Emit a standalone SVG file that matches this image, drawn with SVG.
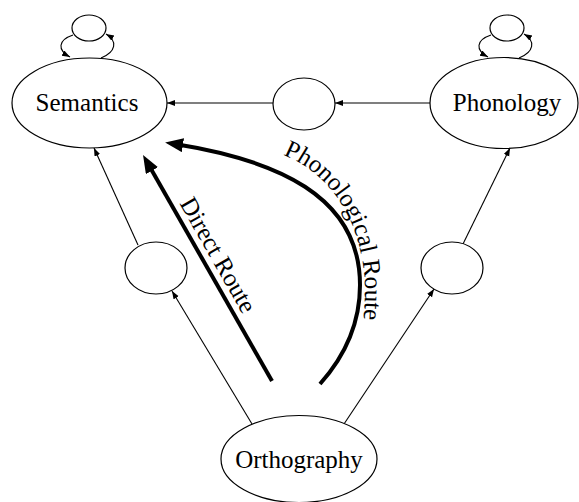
<svg xmlns="http://www.w3.org/2000/svg" width="579" height="502" viewBox="0 0 579 502">
<style>
.node{fill:#fff;stroke:#000;stroke-width:1.2}
.lbl{font-family:"Liberation Serif","Times New Roman",serif;font-size:25px;fill:#000;text-anchor:middle}
.route{font-family:"Liberation Serif","Times New Roman",serif;font-size:25px;fill:#000}
.thin{fill:none;stroke:#000;stroke-width:1.1}
.thick{fill:none;stroke:#000;stroke-width:4}
</style>
<defs>
<marker id="ah" markerUnits="userSpaceOnUse" markerWidth="9" markerHeight="7" refX="8" refY="3" orient="auto">
<path d="M0,0 L8,3 L0,6 z" fill="#000"/>
</marker>
<marker id="big" markerUnits="userSpaceOnUse" markerWidth="20" markerHeight="15" refX="8" refY="7" orient="auto">
<path d="M0,0 L18,7 L0,14 z" fill="#000"/>
</marker>
<path id="phonPath" d="M283,155 C322,170 361,210 365,285 C365,300 364,318 362,345"/>
</defs>
<rect width="579" height="502" fill="#fff"/>

<g id="connectors">
<path class="thin" d="M73,35 C58,40 57,50 70,57" marker-end="url(#ah)"/>
<path class="thin" d="M101,58 C116,52 118,41 106,34" marker-end="url(#ah)"/>
<path class="thin" d="M491,35 C476,40 475,50 488,57" marker-end="url(#ah)"/>
<path class="thin" d="M519,58 C534,52 536,41 524,34" marker-end="url(#ah)"/>
<path class="thin" d="M430,103 L335,103" marker-end="url(#ah)"/>
<path class="thin" d="M273,103 L167,103" marker-end="url(#ah)"/>
<path class="thin" d="M138,245 L94,148" marker-end="url(#ah)"/>
<path class="thin" d="M463,244 L510,148" marker-end="url(#ah)"/>
<path class="thin" d="M252,424 L172,291" marker-end="url(#ah)"/>
<path class="thin" d="M344,424 L434,289" marker-end="url(#ah)"/>
<path class="thick" d="M272,381 L148,163.7" marker-end="url(#big)"/>
<path class="thick" d="M320,384 C345,356 360,322 360,285 C360,195 275,160 175,144" marker-end="url(#big)"/>
<text class="route" text-anchor="middle" transform="translate(211,259) rotate(60.3)">Direct Route</text>
<text class="route"><textPath href="#phonPath">Phonological Route</textPath></text>
</g>

<g id="semantics-loop"><ellipse class="node" cx="89" cy="28" rx="17" ry="13"/></g>
<g id="phonology-loop"><ellipse class="node" cx="507" cy="28" rx="17" ry="13"/></g>
<g id="semantics"><ellipse class="node" cx="89.5" cy="103" rx="77.5" ry="45"/><text class="lbl" x="87" y="111">Semantics</text></g>
<g id="phonology"><ellipse class="node" cx="504" cy="103" rx="74" ry="45.5"/><text class="lbl" x="507" y="111">Phonology</text></g>
<g id="hidden-mid"><ellipse class="node" cx="304" cy="104" rx="31" ry="26"/></g>
<g id="hidden-left"><ellipse class="node" cx="156" cy="268" rx="31" ry="26"/></g>
<g id="hidden-right"><ellipse class="node" cx="452" cy="268" rx="31" ry="26"/></g>
<g id="orthography"><ellipse class="node" cx="299" cy="459" rx="78" ry="43.5"/><text class="lbl" x="299" y="468">Orthography</text></g>
</svg>
